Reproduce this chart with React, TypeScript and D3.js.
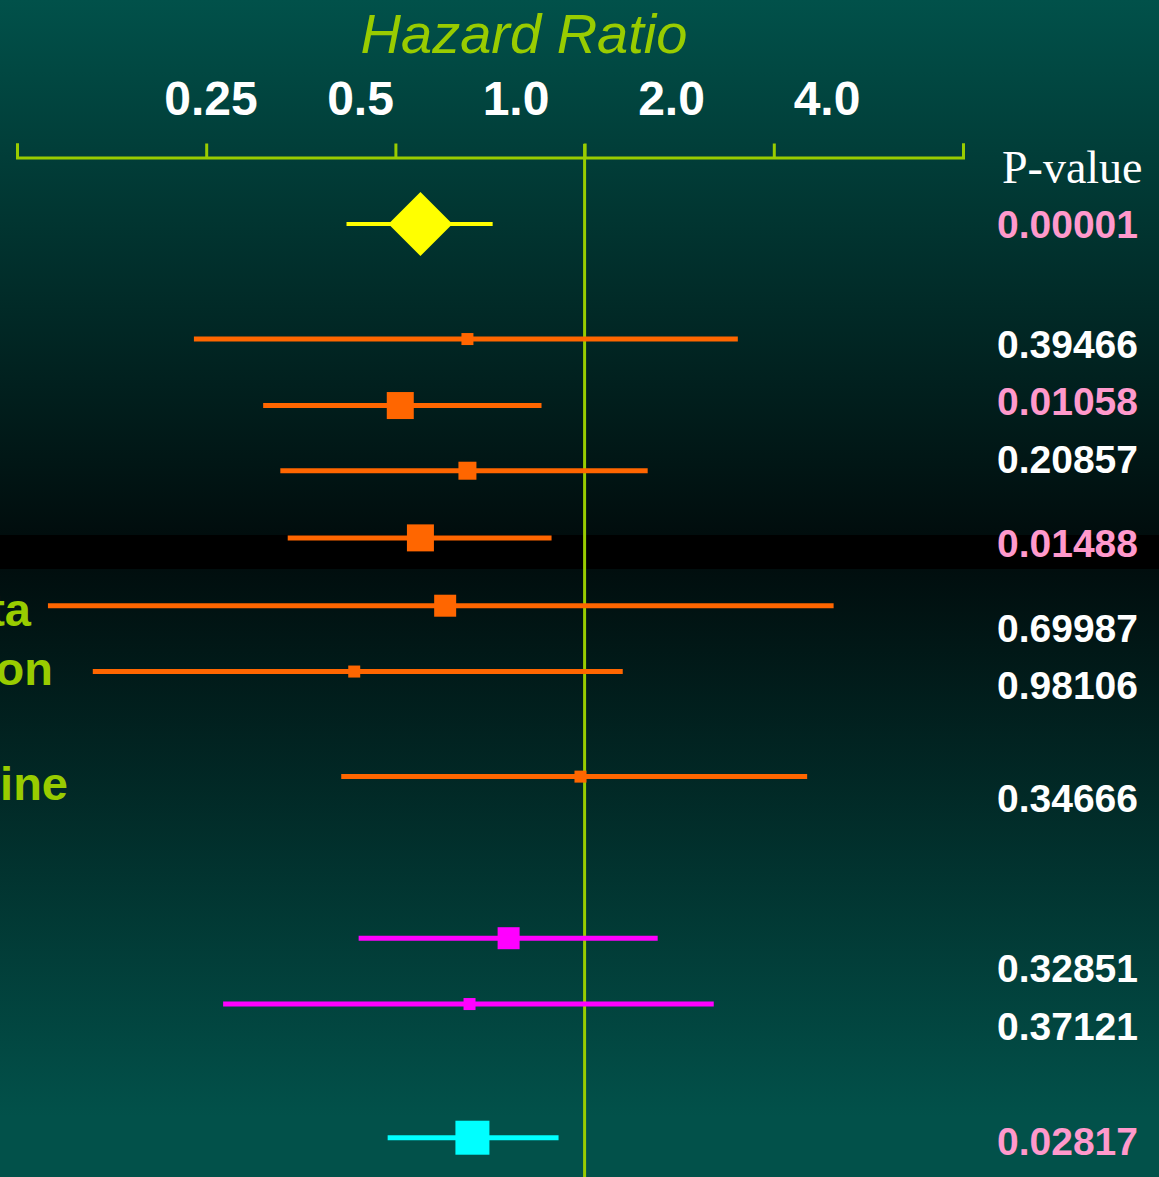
import React, { useRef, useEffect } from "react";
import * as d3 from "d3";

// forest plot data
const rowLabels = ["", "", "", "", "", "ta", "on", "ine", "", "", ""];
const labelSlot = [0, 0, 0, 0, 0, 5.77, 6.66, 8.39, 0, 0, 0];
const hr = [0.548, 0.651, 0.509, 0.651, 0.548, 0.6, 0.43, 0.985, 0.757, 0.656, 0.663];
const lower = [0.418, 0.239, 0.308, 0.328, 0.337, 0.14, 0.165, 0.41, 0.437, 0.266, 0.486];
const upper = [0.714, 1.753, 0.854, 1.26, 0.886, 2.49, 1.15, 2.26, 1.307, 1.605, 0.909];
const weight = [16, 3, 6.75, 4.5, 6.75, 5.5, 3, 3, 5.5, 3, 8.5];
const group = ["overall", "a", "a", "a", "a", "a", "a", "a", "b", "b", "c"];
const rowSlot = [0, 1.73, 2.73, 3.71, 4.72, 5.74, 6.73, 8.31, 10.74, 11.73, 13.74];

const pValues = ["0.00001", "0.39466", "0.01058", "0.20857", "0.01488", "0.69987", "0.98106", "0.34666", "0.32851", "0.37121", "0.02817"];
const pSlot = [0, 1.8, 2.66, 3.53, 4.8, 6.08, 6.93, 8.63, 11.19, 12.06, 13.79];

const tickValues = [0.125, 0.25, 0.5, 1, 2, 4];
const tickLabels = [0.25, 0.5, 1, 2, 4];

const W = 1159;
const H = 1177;
const GREEN = "#99cc00";
const colors: Record<string, string> = {
  overall: "#ffff00",
  a: "#ff6600",
  b: "#ff00ff",
  c: "#00ffff",
};

const App: React.FC = () => {
  const ref = useRef<SVGSVGElement>(null);

  useEffect(() => {
    const svg = d3.select(ref.current);
    svg.selectAll("*").remove();

    // background
    const defs = svg.append("defs");
    const g1 = defs.append("linearGradient").attr("id", "bgTop").attr("x1", 0).attr("y1", 0).attr("x2", 0).attr("y2", 1);
    g1.append("stop").attr("offset", "0%").attr("stop-color", "#01514a");
    g1.append("stop").attr("offset", "100%").attr("stop-color", "#010d0d");
    const g2 = defs.append("linearGradient").attr("id", "bgBot").attr("x1", 0).attr("y1", 0).attr("x2", 0).attr("y2", 1);
    g2.append("stop").attr("offset", "0%").attr("stop-color", "#010e0e");
    g2.append("stop").attr("offset", "90%").attr("stop-color", "#02514a");
    g2.append("stop").attr("offset", "100%").attr("stop-color", "#02514a");

    svg.append("rect").attr("width", W).attr("height", 535).attr("fill", "url(#bgTop)");
    svg.append("rect").attr("y", 535).attr("width", W).attr("height", 34).attr("fill", "#000");
    svg.append("rect").attr("y", 569).attr("width", W).attr("height", H - 569).attr("fill", "url(#bgBot)");

    // scales
    const x = d3.scaleLog().base(2).domain([0.125, 4]).range([17, 963]);
    const xLabel = d3.scaleLog().base(2).domain([0.25, 4]).range([205, 827]);
    const y = d3.scaleLinear().domain([0, 14]).range([224, 224 + 14 * 66.5]);
    const size = d3.scaleLinear().domain([0, 10]).range([0, 40]);

    // title
    svg
      .append("text")
      .attr("x", 524)
      .attr("y", 53)
      .attr("text-anchor", "middle")
      .attr("font-family", "Liberation Sans, Arial, sans-serif")
      .attr("font-style", "italic")
      .attr("font-size", 56)
      .attr("fill", GREEN)
      .text("Hazard Ratio");

    // axis
    const axis = svg
      .append("g")
      .attr("transform", "translate(0,157.5)")
      .call(
        d3
          .axisTop(x)
          .tickValues(tickValues)
          .tickSize(14)
          .tickSizeOuter(14)
          .tickFormat(() => "")
      );
    axis.selectAll("path, line").attr("stroke", GREEN).attr("stroke-width", 3);

    svg
      .append("g")
      .selectAll("text")
      .data(tickLabels)
      .join("text")
      .attr("x", (d) => xLabel(d) + (d === 0.25 ? 6 : 0))
      .attr("y", 115)
      .attr("text-anchor", "middle")
      .attr("font-family", "Liberation Sans, Arial, sans-serif")
      .attr("font-weight", "bold")
      .attr("font-size", 48)
      .attr("fill", "#fff")
      .text((d) => d.toFixed(d < 0.5 ? 2 : 1));

    // reference line at HR = 1
    svg
      .append("line")
      .attr("x1", x(1))
      .attr("x2", x(1))
      .attr("y1", 144)
      .attr("y2", H)
      .attr("stroke", GREEN)
      .attr("stroke-width", 3);

    const rows = hr.map((v, i) => ({
      hr: v,
      lo: lower[i],
      hi: upper[i],
      w: weight[i],
      g: group[i],
      slot: rowSlot[i],
      label: rowLabels[i],
      lslot: labelSlot[i],
    }));

    // CI lines
    svg
      .append("g")
      .selectAll("line")
      .data(rows)
      .join("line")
      .attr("x1", (d) => x(d.lo))
      .attr("x2", (d) => x(d.hi))
      .attr("y1", (d) => y(d.slot))
      .attr("y2", (d) => y(d.slot))
      .attr("stroke", (d) => colors[d.g])
      .attr("stroke-width", (d) => (d.g === "overall" ? 4 : 5));

    // squares
    svg
      .append("g")
      .selectAll("rect")
      .data(rows.filter((d) => d.g !== "overall"))
      .join("rect")
      .attr("x", (d) => x(d.hr) - size(d.w) / 2)
      .attr("y", (d) => y(d.slot) - size(d.w) / 2)
      .attr("width", (d) => size(d.w))
      .attr("height", (d) => size(d.w))
      .attr("fill", (d) => colors[d.g]);

    // overall diamond
    svg
      .append("g")
      .selectAll("path")
      .data(rows.filter((d) => d.g === "overall"))
      .join("path")
      .attr("d", (d) => {
        const cx = x(d.hr);
        const cy = y(d.slot);
        const r = size(d.w) / 2;
        return `M${cx - r},${cy}L${cx},${cy - r}L${cx + r},${cy}L${cx},${cy + r}Z`;
      })
      .attr("fill", colors.overall);

    // row labels (cut off at the left edge)
    svg
      .append("g")
      .selectAll("text")
      .data(rows.filter((d) => d.label))
      .join("text")
      .attr("x", (d, i) => [31, 53, 68][i])
      .attr("y", (d) => y(d.lslot) + 18)
      .attr("text-anchor", "end")
      .attr("font-family", "Liberation Sans, Arial, sans-serif")
      .attr("font-weight", "bold")
      .attr("font-size", 47)
      .attr("fill", GREEN)
      .text((d) => d.label);

    // p-values
    svg
      .append("text")
      .attr("x", 1002)
      .attr("y", 183)
      .attr("font-family", "Liberation Serif, Times New Roman, serif")
      .attr("font-size", 46)
      .attr("fill", "#fff")
      .text("P-value");

    svg
      .append("g")
      .selectAll("text")
      .data(pValues)
      .join("text")
      .attr("x", 1138)
      .attr("y", (d, i) => y(pSlot[i]) + 14)
      .attr("text-anchor", "end")
      .attr("font-family", "Liberation Sans, Arial, sans-serif")
      .attr("font-weight", "bold")
      .attr("font-size", 39)
      .attr("fill", (d) => (+d < 0.05 ? "#ff99cc" : "#fff"))
      .text((d) => d);
  }, []);

  return (
    <div style={{ position: "absolute", left: 0, top: 0 }}>
      <svg ref={ref} width={W} height={H} style={{ display: "block" }} />
    </div>
  );
};

export default App;
